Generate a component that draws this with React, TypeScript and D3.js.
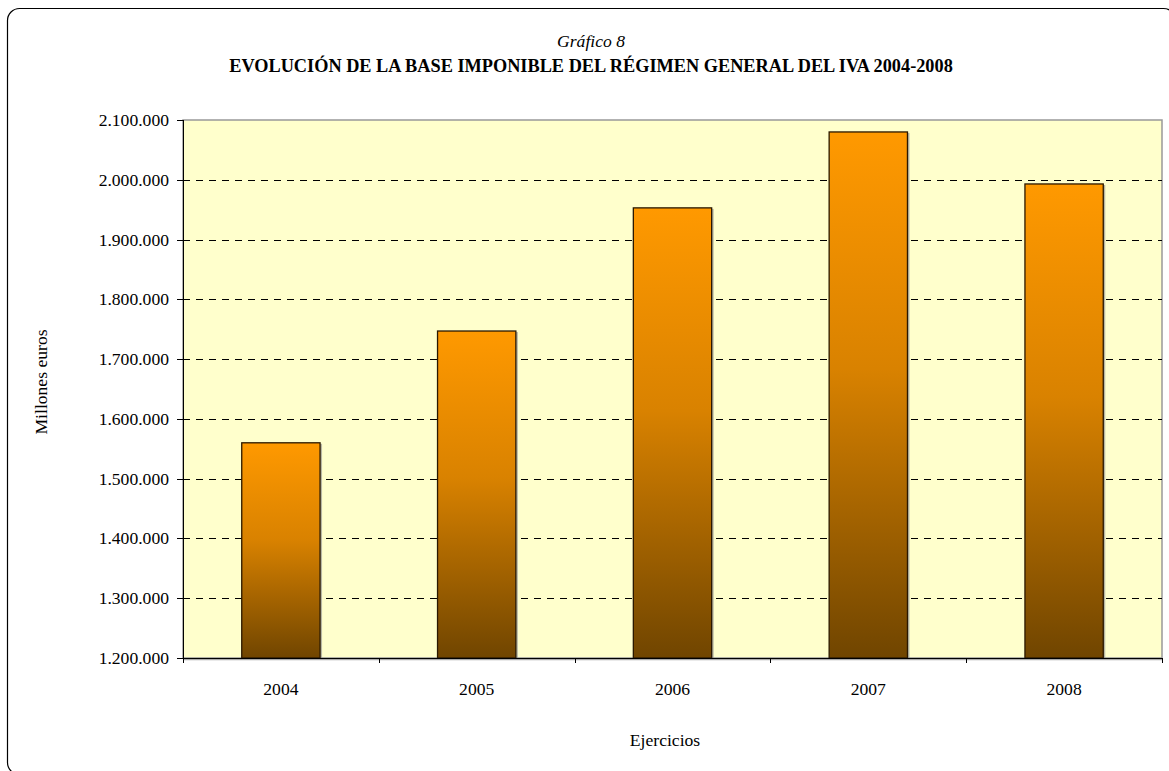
import React from 'react';
import * as d3 from 'd3';

const years = ['2004', '2005', '2006', '2007', '2008'];
const baseImponible = [1560000, 1747000, 1953000, 2080000, 1993000];
const yTicks = [1200000, 1300000, 1400000, 1500000, 1600000, 1700000, 1800000, 1900000, 2000000, 2100000];

const W = 1169;
const H = 771;
const plot = { left: 183, right: 1162, top: 120, bottom: 658 };
const font = '"Liberation Serif", "Times New Roman", serif';
const fs = 17.6;

const fmt = (v: number) => d3.format(',')(v).replace(/,/g, '.');

export default function App() {
  const x = d3.scaleBand<string>()
    .domain(years)
    .range([plot.left, plot.right])
    .paddingInner(0.6)
    .paddingOuter(0.3);
  const band = (plot.right - plot.left) / years.length;
  const y = d3.scaleLinear().domain([1200000, 2100000]).range([plot.bottom, plot.top]);

  return (
    <svg width={W} height={H} style={{ position: 'absolute', left: 0, top: 0, display: 'block' }}>
      <defs>
        <linearGradient id="barGrad" x1="0" x2="0" y1="0" y2="1">
          <stop offset="0%" stopColor="#FF9900" />
          <stop offset="45%" stopColor="#D98200" />
          <stop offset="100%" stopColor="#704500" />
        </linearGradient>
      </defs>
      <rect x={7.5} y={8.5} width={1168} height={766} rx={12} fill="#fff" stroke="#000" strokeWidth={1.2} />

      <text x={591} y={47} textAnchor="middle" fontFamily={font} fontStyle="italic" fontSize={fs}>Gráfico 8</text>
      <text x={591} y={72} textAnchor="middle" fontFamily={font} fontWeight="bold" fontSize={18.3}>
        EVOLUCIÓN DE LA BASE IMPONIBLE DEL RÉGIMEN GENERAL DEL IVA 2004-2008
      </text>

      {/* plot area */}
      <rect x={plot.left} y={plot.top} width={plot.right - plot.left} height={plot.bottom - plot.top}
        fill="#FFFFCC" stroke="#999" strokeWidth={1.5} />
      <line x1={plot.left} x2={plot.right} y1={plot.bottom + 1.5} y2={plot.bottom + 1.5} stroke="#aaa" strokeWidth={1.5} />

      {yTicks.slice(1, -1).map((t) => (
        <line key={t} x1={plot.left} x2={plot.right} y1={Math.round(y(t)) + 0.5} y2={Math.round(y(t)) + 0.5}
          stroke="#000" strokeDasharray="7,6" />
      ))}

      {years.map((yr, i) => {
        const bx = x(yr)!;
        const by = y(baseImponible[i]);
        return (
          <g key={yr}>
            <rect x={bx + 2} y={by + 1} width={x.bandwidth()} height={plot.bottom - by - 1} fill="#888" opacity={0.6} />
            <rect x={bx} y={by} width={x.bandwidth()} height={plot.bottom - by}
              fill="url(#barGrad)" stroke="#2a1800" strokeWidth={1.3} />
          </g>
        );
      })}

      {/* axes */}
      <line x1={plot.left + 0.5} x2={plot.left + 0.5} y1={plot.top} y2={plot.bottom} stroke="#000" />
      <line x1={plot.left} x2={plot.right} y1={plot.bottom + 0.5} y2={plot.bottom + 0.5} stroke="#000" />
      {yTicks.map((t) => (
        <g key={t}>
          <line x1={plot.left - 6} x2={plot.left} y1={Math.round(y(t)) + 0.5} y2={Math.round(y(t)) + 0.5} stroke="#000" />
          <text x={plot.left - 14} y={y(t) + 6} textAnchor="end" fontFamily={font} fontSize={fs}>{fmt(t)}</text>
        </g>
      ))}
      {d3.range(years.length + 1).map((i) => (
        <line key={i} x1={Math.round(plot.left + i * band) + 0.5} x2={Math.round(plot.left + i * band) + 0.5}
          y1={plot.bottom} y2={plot.bottom + 5} stroke="#000" />
      ))}
      {years.map((yr) => (
        <text key={yr} x={x(yr)! + x.bandwidth() / 2} y={695} textAnchor="middle" fontFamily={font} fontSize={fs}>{yr}</text>
      ))}

      <text x={665} y={746} textAnchor="middle" fontFamily={font} fontSize={fs}>Ejercicios</text>
      <text transform="translate(47, 382) rotate(-90)" textAnchor="middle" fontFamily={font} fontSize={fs}>Millones euros</text>
    </svg>
  );
}
